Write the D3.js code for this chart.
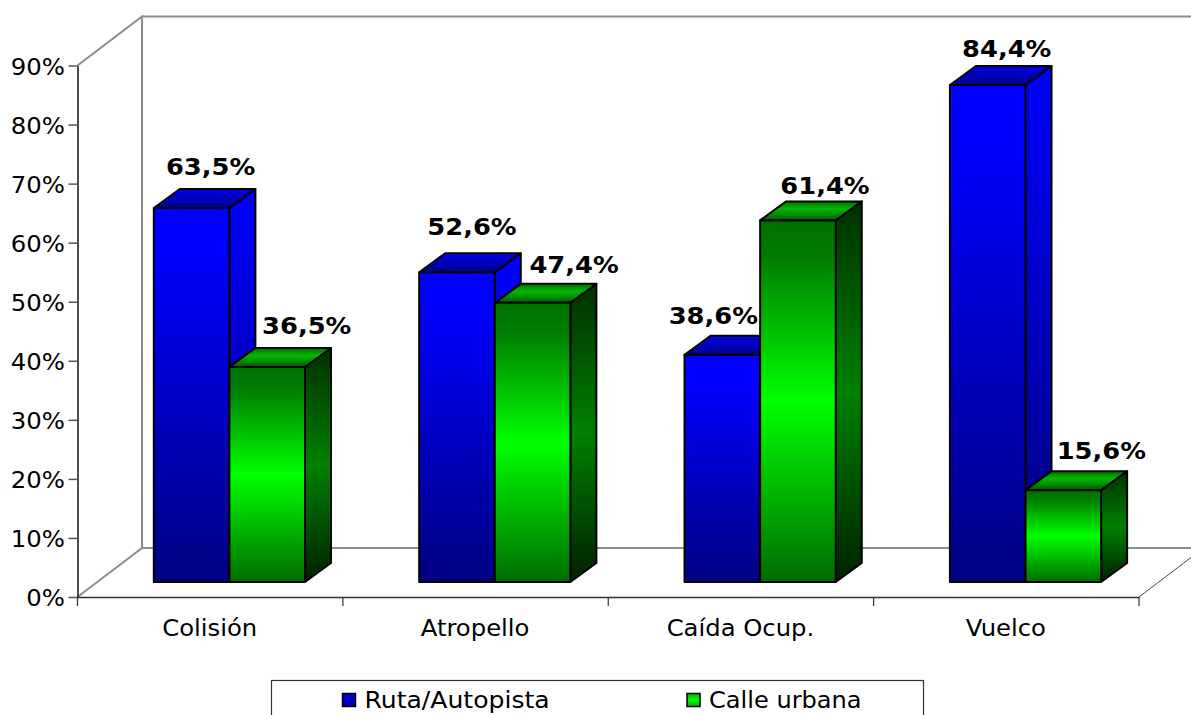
<!DOCTYPE html>
<html><head><meta charset="utf-8">
<script src="https://cdn.jsdelivr.net/npm/d3@7"></script>
<style>html,body{margin:0;padding:0;background:#fff;overflow:hidden}svg{display:block}text{font-family:"DejaVu Sans",Verdana,sans-serif;fill:#000}</style>
</head><body><svg id="c" width="1191" height="715"></svg>
<script>
const categories = ["Colisión","Atropello","Caída Ocup.","Vuelco"];
const seriesNames = ["Ruta/Autopista","Calle urbana"];
const ruta = [63.5,52.6,38.6,84.4];
const calle = [36.5,47.4,61.4,15.6];
const yTicks = [0,10,20,30,40,50,60,70,80,90];
const rutaLabels = ["63,5%","52,6%","38,6%","84,4%"];
const calleLabels = ["36,5%","47,4%","61,4%","15,6%"];
// hand placement of the value labels relative to each bar's top-centre
const rutaNudge = [[19,-33],[15,-37],[-9,-31],[19,-28]];
const calleNudge = [[39.5,-33],[41.5,-30],[27,-26],[38,-31]];

const svg = d3.select("#c");
const defs = svg.append("defs");
function grad(id, stops){
  const g = defs.append("linearGradient").attr("id",id).attr("x1",0).attr("y1",0).attr("x2",0).attr("y2",1);
  stops.forEach(([o,c])=>g.append("stop").attr("offset",o).attr("stop-color",c));
}
grad("bFront",[[0,"#0000ff"],[.12,"#0000ff"],[1,"#000080"]]);
grad("bSide",[[0,"#0000ff"],[.12,"#0000f0"],[1,"#00007a"]]);
grad("bTop",[[0,"#0000e6"],[1,"#00008c"]]);
grad("gFront",[[0,"#007000"],[.1,"#007c00"],[.5,"#00ff00"],[1,"#006c00"]]);
grad("gSide",[[0,"#003000"],[.5,"#008000"],[1,"#002000"]]);
grad("gTop",[[0,"#007000"],[.4,"#00b800"],[1,"#005c00"]]);
grad("lb",[[0,"#0000e0"],[1,"#0000a0"]]);
grad("lg",[[0,"#00b000"],[.5,"#00ff00"],[1,"#00b000"]]);

const y = d3.scaleLinear().domain([0,90]).range([597,65.5]);
// front plane of the bars sits a little in from the axis plane
const barY = d3.scaleLinear().domain([0,90]).range([582,52]);
const x = d3.scaleBand().domain(categories).range([77.5,1139]);
const inner = d3.scaleBand().domain([0,1]).range([76.3,227.5]);
const depth = {x:64.5,y:-49}, barDepth = {x:26,y:-19};
const floorY = y(0)+depth.y;
const ax0 = x.range()[0], ax1 = x.range()[1];
const wallX = ax0+depth.x, wallTop = y(90)+depth.y;

// walls
const wall = svg.append("g").attr("fill","none").attr("stroke","#8c8c8c").attr("stroke-width",2);
wall.append("path").attr("d",`M${ax0},${y(90)}L${wallX},${wallTop}L${wallX},${floorY}L${ax0},${y(0)}`);
wall.append("path").attr("d",`M${wallX},${wallTop}H1191M${wallX},${floorY}H1191`);
svg.append("line").attr("x1",ax1).attr("y1",y(0)).attr("x2",ax1+depth.x).attr("y2",y(0)+depth.y)
  .attr("stroke","#444").attr("stroke-width",1);

// axes
const yAxis = svg.append("g").attr("transform",`translate(${ax0},0)`)
  .call(d3.axisLeft(y).tickValues(yTicks).tickFormat("").tickSize(9).tickSizeOuter(0));
yAxis.selectAll("path").attr("stroke","#111").attr("stroke-width",1.5);
yAxis.selectAll("line").attr("stroke","#555").attr("stroke-width",1.5);
const xAxis = svg.append("g").attr("transform",`translate(0,${y(0)})`)
  .call(d3.axisBottom(x).tickValues([]).tickSizeOuter(0));
xAxis.select("path").attr("stroke","#333").attr("stroke-width",1.5);
svg.append("g").selectAll("line").data(d3.range(categories.length+1)).join("line")
  .attr("x1",i=>ax0+i*x.bandwidth()).attr("x2",i=>ax0+i*x.bandwidth())
  .attr("y1",y(0)).attr("y2",y(0)+9).attr("stroke","#333").attr("stroke-width",1.2);

function put(g,str,px,py,sx,size,anchor,weight){
  g.append("text").text(str)
   .attr("transform",`translate(${px},${py}) scale(${sx},1)`)
   .attr("text-anchor",anchor).attr("font-size",size).attr("font-weight",weight||"normal");
}

// tick labels
const tl = svg.append("g");
yTicks.forEach(t=>put(tl,t+"%",65,y(t)+9,1.06,23,"end"));
categories.forEach(c=>put(tl,c,x(c)+x.bandwidth()/2-0.5,636,1.08,22.5,"middle"));

// bars
const barsG = svg.append("g").attr("stroke","#000").attr("stroke-width",2).attr("stroke-linejoin","round");
const labels = svg.append("g");
function bar(cx,i,val,pre){
  const x0 = x(cx)+inner(i), x1 = x0+inner.bandwidth();
  const yb = barY(0), yt = barY(val);
  const d = barDepth;
  const g = barsG.append("g");
  g.append("path").attr("fill",`url(#${pre}Side)`).attr("d",`M${x1},${yt}L${x1+d.x},${yt+d.y}V${yb+d.y}L${x1},${yb}Z`);
  g.append("path").attr("fill",`url(#${pre}Top)`).attr("d",`M${x0},${yt}L${x0+d.x},${yt+d.y}H${x1+d.x}L${x1},${yt}Z`);
  g.append("rect").attr("fill",`url(#${pre}Front)`).attr("x",x0).attr("y",yt).attr("width",x1-x0).attr("height",yb-yt);
  return {cx:(x0+x1)/2, yt};
}
categories.forEach((c,k)=>{
  const a = bar(c,0,ruta[k],"b");
  const b = bar(c,1,calle[k],"g");
  put(labels,rutaLabels[k],a.cx+rutaNudge[k][0],a.yt+rutaNudge[k][1],1.12,23,"middle","bold");
  put(labels,calleLabels[k],b.cx+calleNudge[k][0],b.yt+calleNudge[k][1],1.12,23,"middle","bold");
});

// legend
const lg = svg.append("g");
lg.append("rect").attr("x",271.5).attr("y",680.5).attr("width",652).attr("height",60).attr("fill","#fff").attr("stroke","#333").attr("stroke-width",1.2);
const legendPos = d3.scaleOrdinal().domain(seriesNames).range([342.5,687]);
const legendFill = d3.scaleOrdinal().domain(seriesNames).range(["url(#lb)","url(#lg)"]);
const legendStretch = d3.scaleOrdinal().domain(seriesNames).range([1.115,1.07]);
seriesNames.forEach(n=>{
  const p = legendPos(n);
  lg.append("rect").attr("x",p).attr("y",693.5).attr("width",13).attr("height",13)
    .attr("fill",legendFill(n)).attr("stroke","#000").attr("stroke-width",1.5);
  put(lg,n,p+22,708,legendStretch(n),22.5,"start");
});
</script></body></html>
